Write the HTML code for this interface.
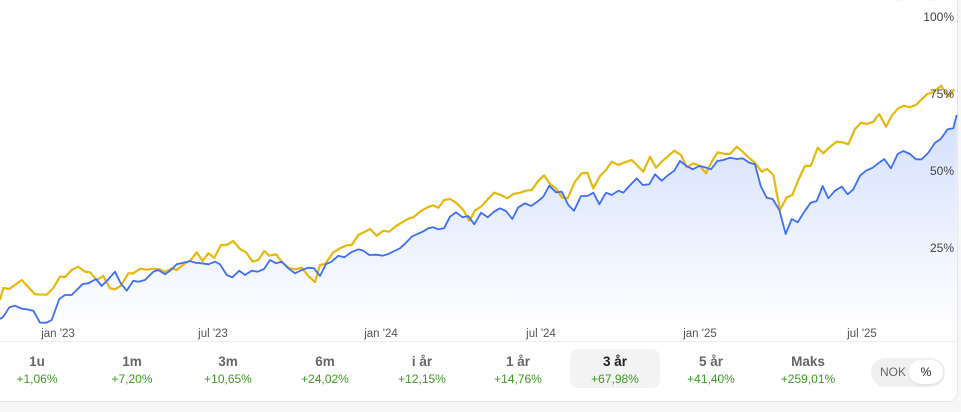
<!DOCTYPE html>
<html><head><meta charset="utf-8">
<style>
html,body{margin:0;padding:0;}
body{width:961px;height:412px;overflow:hidden;background:#f6f6f6;position:relative;font-family:"Liberation Sans",sans-serif;}
.card{position:absolute;left:-10px;top:-10px;width:966px;height:410px;background:#fff;border:1px solid #e6e6e6;border-radius:10px;}
svg{position:absolute;left:0;top:0;}
.sep{position:absolute;left:0;top:341px;width:957px;height:1px;background:#ececec;}
.tab{position:absolute;top:349px;width:90px;height:39px;text-align:center;border-radius:8px;}
.tab .l{position:absolute;left:0;right:0;top:5px;font-size:13.5px;color:#666;font-weight:bold;}
.tab .v{position:absolute;left:0;right:0;top:23px;font-size:12px;color:#3c9a1f;}
.tab.sel{background:#f3f3f3;}
.tab.sel .l{color:#222;}
.tog{position:absolute;left:871px;top:358px;width:74px;height:29px;border-radius:15px;background:#f0f0f0;}
.tog .n{position:absolute;left:9px;top:7px;font-size:12px;color:#666;}
.tog .p{position:absolute;left:38px;top:2px;width:34px;height:24px;border-radius:12px;background:#fff;box-shadow:0 1px 2px rgba(0,0,0,0.08);text-align:center;line-height:24px;font-size:12px;color:#222;}
</style></head><body>
<div class="card"></div>
<svg width="961" height="412" viewBox="0 0 961 412">
<defs>
<linearGradient id="g" x1="0" y1="115" x2="0" y2="330" gradientUnits="userSpaceOnUse">
<stop offset="0" stop-color="#d3dffc"/>
<stop offset="1" stop-color="#ffffff"/>
</linearGradient>
</defs>
<circle cx="897" cy="-13" r="14" fill="#f5f5f5"/>
<circle cx="932" cy="-13" r="14" fill="#f5f5f5"/>
<polygon fill="url(#g)" points="0,335 0,319 3.3,316.7 9.3,307.3 15,305.7 21.7,308.7 26.7,309.3 33.3,310.7 40,322.7 46.7,322.7 51.7,320 59.3,299 65,295 71.7,295 76.7,290 82.7,284 88.3,283.3 96,279 101.7,286 108.3,279.3 115,271.7 120.7,283.3 126.7,290.7 133.3,280.7 138.3,281.7 145,280 153.3,271.7 158.3,270 165,274.3 171,270 176.7,264.3 183.3,262.7 190,261 195,262.7 201.7,263.3 208.3,264.3 215,261.7 220,264.3 226.7,275 232.3,277.3 239.3,270.7 245,275 251.7,270.7 257.7,271.7 264,269 270,260 276,263.3 281.7,261.7 288.3,268.3 295,273.3 301.7,270 308.3,267.7 314,268.3 320,276 326,264 331.7,261.7 338.3,255.7 344.3,257.3 351.7,252 358.3,249.3 363.3,250.7 369.3,255 376,254.7 382.7,255.7 388.3,254 394.3,251 400,248.3 406,242.7 411.7,236.7 417.3,234 422.7,231.7 428.3,228.3 433.3,227.3 438.3,229.3 444,228.3 450,216.7 456,212.3 462.7,217.3 468.3,216 474.3,224.3 481,212.7 487.7,217.3 494,211.7 500,208.3 506,211 512.3,219 518.3,207.3 525,203.3 531,206 537.3,201.7 543.3,196.7 549.3,185.7 556,192.3 561.7,191.7 568.3,205 574,210.7 581,196 587.3,196 593.3,192.7 599.3,204.3 606,192.7 611.7,195 618.3,190.7 623.3,192.7 629.3,186 636.7,178.3 642.7,185 649.3,184.3 655,174.3 661.7,180.7 668.3,175 674.3,170.7 680,161 686.7,166 692.7,169.3 699.3,166 705,167.3 711,169.3 717.3,161 723.3,160 730,157.7 736.7,159 742.7,158.3 749.3,162.7 755,164.3 760.7,186 766.7,197.7 772.7,199 779.3,210 785.7,234 791.7,219 797.7,222.3 804.3,211.7 810.7,202.7 816.7,201 822.7,186 828.3,198.3 835,190.7 841.7,186.7 847.7,194.3 853.3,189.3 860,175.7 866,170.7 872.7,167.7 878.3,163.3 884.3,159 891,168.3 897.7,154 903.3,151 910,154 916,159.3 921.7,159.3 928.3,152.7 935,142.7 940.7,139 947.7,129.3 953.3,128.3 956.7,115 956.7,335"/>
<polyline fill="none" stroke="#e6b80e" stroke-width="2.2" stroke-linejoin="round" points="0,300 3.3,288 9.3,289 21.7,280 35,294.3 46.7,294.7 53.3,288 60,276.7 65,277 71.7,270 78.3,266.7 85,271.7 90,272.3 96.7,280 103.3,276 110,288.3 115,289.3 120.7,286 128.3,273.3 133.3,273.3 140,268.7 146.7,269.7 153.3,268.7 160,269.3 165,272 171.7,268.3 176.7,270 185,263.3 190,261 196.7,252.3 202.7,261 208.3,253.3 214.3,257.7 221,245 226.7,245 233.3,241 240,249 246,252.3 252.7,261.7 258.3,260 264.3,251 269.3,255.7 276,254.3 281.7,261.7 288.3,267.7 295,269.3 301.7,267.7 308.3,276 315,282 320,265 325,264 333.3,252.3 340,248.3 346.7,245.3 351.7,245 358.3,235 365,231.7 370,229 376.7,235.7 383.3,230.7 389.3,231.7 396,226 401.7,222.7 408.3,218.7 413.3,217.3 420,211.7 426.7,207.7 432.7,205.3 438.3,207.7 444.3,200 450,199 456.7,203.3 463.3,210 469.3,220.7 475,210.7 481.7,206 488.3,198.7 494.3,192.7 501,195 507.3,198.3 513.3,194 520,192.7 526,190.7 531.7,190 537.7,181.7 544,175.3 550,184 556,188.3 561.7,197.3 567.7,198.3 575,181.7 581.7,173.3 587.3,172.7 593.3,188.3 600,176 606,170 611.7,161.7 618.3,165 625,162.3 631.7,160 643.3,171.7 650,156.7 656,167.7 661.7,161.7 668.3,156 674.3,150.7 681,155 686.7,167.3 693.3,163.3 700,166 706,173.3 711.7,161.7 717.7,152.3 725,154 730,154 736.7,146.7 742.7,151.7 748.3,157.3 755,162.7 761.7,171.7 767.3,169 773.3,175 780,210 786.7,197.3 792.3,195 798.3,180 805,166 810.7,166 817.7,147.7 823.3,153.3 830,146.7 836.7,141.7 842.7,142.3 848.3,144.3 855,129 861,122.7 866.7,124 873.3,121.7 879.3,114 886,126.7 891.7,115.7 898.3,108.3 904,105.7 910,107.3 916,105 921.7,99.3 927.3,94 933.3,92.3 941,85.7 948.3,96.7 954.3,89.3"/>
<polyline fill="none" stroke="#3f6ff2" stroke-width="1.8" stroke-linejoin="round" points="0,319 3.3,316.7 9.3,307.3 15,305.7 21.7,308.7 26.7,309.3 33.3,310.7 40,322.7 46.7,322.7 51.7,320 59.3,299 65,295 71.7,295 76.7,290 82.7,284 88.3,283.3 96,279 101.7,286 108.3,279.3 115,271.7 120.7,283.3 126.7,290.7 133.3,280.7 138.3,281.7 145,280 153.3,271.7 158.3,270 165,274.3 171,270 176.7,264.3 183.3,262.7 190,261 195,262.7 201.7,263.3 208.3,264.3 215,261.7 220,264.3 226.7,275 232.3,277.3 239.3,270.7 245,275 251.7,270.7 257.7,271.7 264,269 270,260 276,263.3 281.7,261.7 288.3,268.3 295,273.3 301.7,270 308.3,267.7 314,268.3 320,276 326,264 331.7,261.7 338.3,255.7 344.3,257.3 351.7,252 358.3,249.3 363.3,250.7 369.3,255 376,254.7 382.7,255.7 388.3,254 394.3,251 400,248.3 406,242.7 411.7,236.7 417.3,234 422.7,231.7 428.3,228.3 433.3,227.3 438.3,229.3 444,228.3 450,216.7 456,212.3 462.7,217.3 468.3,216 474.3,224.3 481,212.7 487.7,217.3 494,211.7 500,208.3 506,211 512.3,219 518.3,207.3 525,203.3 531,206 537.3,201.7 543.3,196.7 549.3,185.7 556,192.3 561.7,191.7 568.3,205 574,210.7 581,196 587.3,196 593.3,192.7 599.3,204.3 606,192.7 611.7,195 618.3,190.7 623.3,192.7 629.3,186 636.7,178.3 642.7,185 649.3,184.3 655,174.3 661.7,180.7 668.3,175 674.3,170.7 680,161 686.7,166 692.7,169.3 699.3,166 705,167.3 711,169.3 717.3,161 723.3,160 730,157.7 736.7,159 742.7,158.3 749.3,162.7 755,164.3 760.7,186 766.7,197.7 772.7,199 779.3,210 785.7,234 791.7,219 797.7,222.3 804.3,211.7 810.7,202.7 816.7,201 822.7,186 828.3,198.3 835,190.7 841.7,186.7 847.7,194.3 853.3,189.3 860,175.7 866,170.7 872.7,167.7 878.3,163.3 884.3,159 891,168.3 897.7,154 903.3,151 910,154 916,159.3 921.7,159.3 928.3,152.7 935,142.7 940.7,139 947.7,129.3 953.3,128.3 956.7,115"/>
<g font-family="Liberation Sans, sans-serif" font-size="12" fill="#444" text-anchor="end">
<text x="954" y="21">100%</text>
<text x="954" y="98">75%</text>
<text x="954" y="175">50%</text>
<text x="954" y="252">25%</text>
</g>
<g font-family="Liberation Sans, sans-serif" font-size="11.5" fill="#555" text-anchor="middle">
<text x="58" y="337">jan '23</text>
<text x="213" y="337">jul '23</text>
<text x="381" y="337">jan '24</text>
<text x="541" y="337">jul '24</text>
<text x="700" y="337">jan '25</text>
<text x="862" y="337">jul '25</text>
</g>
</svg>
<div class="sep"></div>
<div class="tab" style="left:-8px"><div class="l">1u</div><div class="v">+1,06%</div></div>
<div class="tab" style="left:87px"><div class="l">1m</div><div class="v">+7,20%</div></div>
<div class="tab" style="left:183px"><div class="l">3m</div><div class="v">+10,65%</div></div>
<div class="tab" style="left:280px"><div class="l">6m</div><div class="v">+24,02%</div></div>
<div class="tab" style="left:377px"><div class="l">i år</div><div class="v">+12,15%</div></div>
<div class="tab" style="left:473px"><div class="l">1 år</div><div class="v">+14,76%</div></div>
<div class="tab sel" style="left:570px"><div class="l">3 år</div><div class="v">+67,98%</div></div>
<div class="tab" style="left:666px"><div class="l">5 år</div><div class="v">+41,40%</div></div>
<div class="tab" style="left:763px"><div class="l">Maks</div><div class="v">+259,01%</div></div>
<div class="tog"><span class="n">NOK</span><div class="p">%</div></div>
</body></html>
